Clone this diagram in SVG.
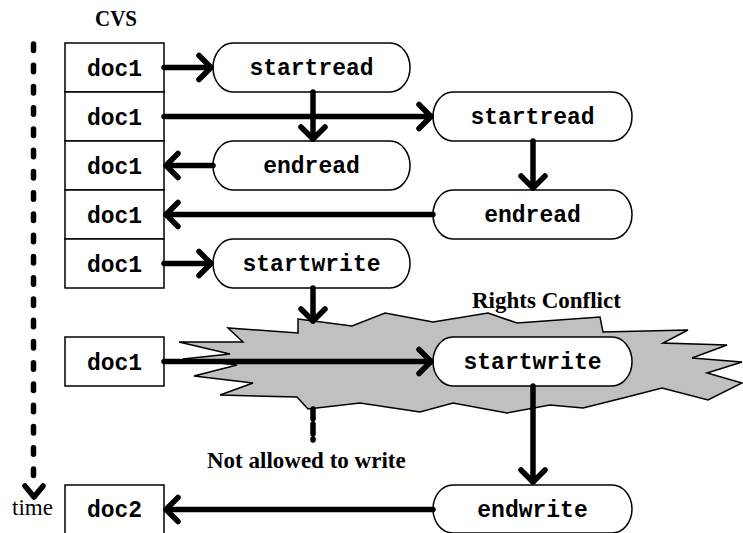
<svg xmlns="http://www.w3.org/2000/svg" width="743" height="533" viewBox="0 0 743 533">
  <style>
    .box { fill: #ffffff; stroke: #000000; stroke-width: 1.5; }
    .node { fill: #ffffff; stroke: #000000; stroke-width: 1.5; }
    .mono { font-family: "Liberation Mono", "Courier New", monospace; font-weight: bold; font-size: 23px; fill: #000000; text-anchor: middle; }
    .serif { font-family: "Liberation Serif", "Times New Roman", serif; font-size: 23px; fill: #000000; }
    .bold { font-weight: bold; }
    .conn { fill: none; stroke: #000000; stroke-width: 5.5; stroke-linecap: round; stroke-linejoin: round; }
    .head { fill: none; stroke: #000000; stroke-width: 5.5; stroke-linecap: round; stroke-linejoin: round; }
    .burst { fill: #c0c0c0; stroke: #000000; stroke-width: 1.5; stroke-linejoin: miter; }
  </style>
  <defs>
    <marker id="arrow" markerUnits="userSpaceOnUse" markerWidth="30" markerHeight="30" viewBox="-20 -15 30 30" refX="0" refY="0" orient="auto" overflow="visible">
      <path class="head" d="M-12,-12 L0,0 L-12,12"/>
    </marker>
  </defs>

  <rect width="743" height="533" fill="#ffffff"/>

  <!-- conflict burst behind the blocked write -->
  <polygon id="conflict" class="burst" points="298,319 352,326 385,313 433,322 488,313 517,323 600,317 603,332 688,330 663,343 727,345 692,358 742,362 707,373 742,383 708,400 662,388 627,397 583,408 550,405 507,413 453,403 420,412 360,403 308,409 297,397 220,395 253,383 194,376 237,365 183,359 230,354 179,342 243,342 228,328 298,333"/>

  <!-- titles and notes -->
  <text class="serif bold" x="95" y="26" textLength="42" lengthAdjust="spacingAndGlyphs">CVS</text>
  <text class="serif bold" x="472" y="308">Rights Conflict</text>
  <text class="serif bold" x="207" y="468">Not allowed to write</text>
  <text class="serif" x="12" y="515">time</text>

  <!-- repository versions -->
  <g id="cvs1"><rect class="box" x="65" y="43" width="99" height="49"/><text class="mono" x="114.5" y="76">doc1</text></g>
  <g id="cvs2"><rect class="box" x="65" y="92" width="99" height="49"/><text class="mono" x="114.5" y="125">doc1</text></g>
  <g id="cvs3"><rect class="box" x="65" y="141" width="99" height="49"/><text class="mono" x="114.5" y="174">doc1</text></g>
  <g id="cvs4"><rect class="box" x="65" y="190" width="99" height="49"/><text class="mono" x="114.5" y="223">doc1</text></g>
  <g id="cvs5"><rect class="box" x="65" y="239" width="99" height="49"/><text class="mono" x="114.5" y="272">doc1</text></g>
  <g id="cvs6"><rect class="box" x="65" y="337" width="99" height="49"/><text class="mono" x="114.5" y="370">doc1</text></g>
  <g id="cvs7"><rect class="box" x="65" y="485" width="99" height="49"/><text class="mono" x="114.5" y="517">doc2</text></g>

  <!-- client operations -->
  <g id="startread1"><rect class="node" x="213" y="43" width="197" height="49" rx="20" ry="24.5"/><text class="mono" x="311.5" y="75">startread</text></g>
  <g id="endread1"><rect class="node" x="213" y="141" width="197" height="49" rx="20" ry="24.5"/><text class="mono" x="311.5" y="173">endread</text></g>
  <g id="startwrite1"><rect class="node" x="213" y="239" width="197" height="49" rx="20" ry="24.5"/><text class="mono" x="311.5" y="271">startwrite</text></g>
  <g id="startread2"><rect class="node" x="433" y="92" width="199" height="49" rx="20" ry="24.5"/><text class="mono" x="532.5" y="124">startread</text></g>
  <g id="endread2"><rect class="node" x="433" y="190" width="199" height="49" rx="20" ry="24.5"/><text class="mono" x="532.5" y="222">endread</text></g>
  <g id="startwrite2"><rect class="node" x="433" y="337" width="199" height="49" rx="20" ry="24.5"/><text class="mono" x="532.5" y="369">startwrite</text></g>
  <g id="endwrite"><rect class="node" x="433" y="485" width="199" height="48" rx="20" ry="24"/><text class="mono" x="532.5" y="517">endwrite</text></g>

  <g id="connectors">
    <!-- time axis -->
    <line class="conn" x1="33.5" y1="44" x2="33.5" y2="480" stroke-width="8" stroke-dasharray="6.5 14.75"/>
    <path class="head" d="M25,486 L34,497 L43,486"/>
    <!-- row traffic -->
    <line class="conn" x1="164" y1="67.5" x2="211" y2="67.5" marker-end="url(#arrow)"/>
    <line class="conn" x1="164" y1="116.5" x2="431" y2="116.5" marker-end="url(#arrow)"/>
    <line class="conn" x1="313" y1="92" x2="313" y2="139" marker-end="url(#arrow)"/>
    <line class="conn" x1="213" y1="165.5" x2="166" y2="165.5" marker-end="url(#arrow)"/>
    <line class="conn" x1="533" y1="141" x2="533" y2="188" marker-end="url(#arrow)"/>
    <line class="conn" x1="433" y1="214.5" x2="166" y2="214.5" marker-end="url(#arrow)"/>
    <line class="conn" x1="164" y1="263.5" x2="211" y2="263.5" marker-end="url(#arrow)"/>
    <line class="conn" x1="313" y1="288" x2="313" y2="321" marker-end="url(#arrow)"/>
    <line class="conn" x1="164" y1="361.5" x2="431" y2="361.5" marker-end="url(#arrow)"/>
    <line class="conn" x1="533" y1="386" x2="533" y2="482" marker-end="url(#arrow)"/>
    <line class="conn" x1="433" y1="509.5" x2="166" y2="509.5" marker-end="url(#arrow)"/>
    <!-- blocked write -->
    <line class="conn" x1="313" y1="409" x2="313" y2="440" stroke-width="6" stroke-linecap="butt" stroke-dasharray="10 5"/>
  </g>
</svg>
